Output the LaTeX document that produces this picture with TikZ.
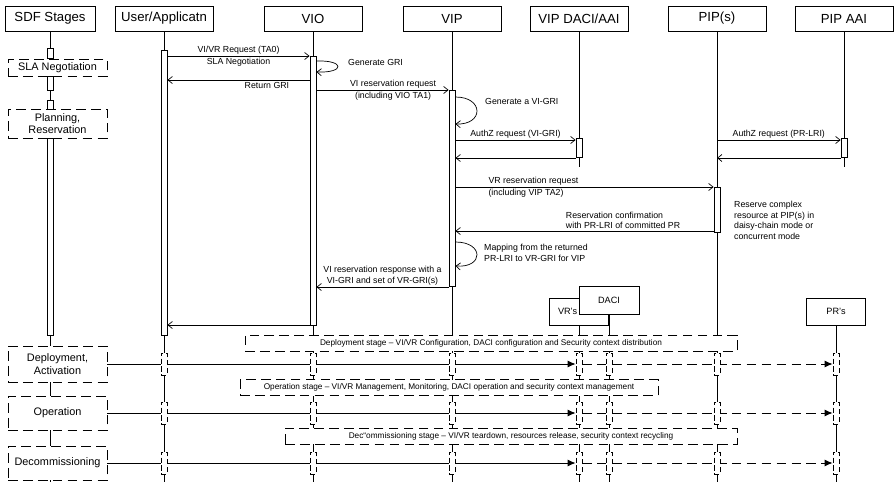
\documentclass[tikz,border=0pt]{standalone}
\usepackage{fontspec}
\setmainfont{Liberation Sans}
\usetikzlibrary{arrows.meta,backgrounds}

\tikzset{
  lifehead/.style={draw, fill=white, minimum width=1.96cm, minimum height=0.5cm, inner sep=1pt, font=\fontsize{7.5}{9}\selectfont},
  actbar/.style={draw, fill=white, minimum width=0.12cm, inner sep=0pt},
  dashbar/.style={actbar, dash pattern=on 3pt off 1.5pt, minimum height=0.44cm},
  sdfbox/.style={draw, fill=white, dash pattern=on 5.5pt off 3pt, minimum width=1.98cm, inner sep=1pt, align=center, font=\fontsize{6.2}{7.2}\selectfont},
  stageframe/.style={draw, fill=white, dash pattern=on 5.5pt off 3pt, minimum height=0.32cm, inner sep=1pt, font=\fontsize{4.7}{5.5}\selectfont},
  obj/.style={draw, fill=white, minimum width=1.18cm, minimum height=0.54cm, inner sep=1pt, font=\fontsize{5.2}{6}\selectfont},
  msg/.style={-{Straight Barb[length=2.5pt,width=4pt]}, line width=0.4pt},
  txt/.style={font=\fontsize{5}{6}\selectfont, inner sep=1pt, align=center},
  stageln/.style={-{Latex[length=4.5pt,width=4pt]}, line width=0.5pt}
}

\begin{document}
\begin{tikzpicture}[x=0.02cm, y=-0.02cm, line width=0.5pt]
  \useasboundingbox (0,0) rectangle (895,484);

  % Lifeline heads
  \node[lifehead, minimum width=1.8cm] (sdf) at (50,18.5) {SDF Stages};
  \node[lifehead] (usr) at (164,18.5) {User/Applicatn};
  \node[lifehead] (vio) at (313,18.5) {VIO};
  \node[lifehead] (vip) at (452,18.5) {VIP};
  \node[lifehead] (vdaci) at (579,18.5) {VIP DACI/AAI};
  \node[lifehead] (pip) at (717,18.5) {PIP(s)};
  \node[lifehead] (paai) at (844,18.5) {PIP AAI};

  % Activation bars
  \node[actbar, minimum height=0.2cm] (sA1) at (50,53) {};
  \node[actbar, minimum height=0.28cm] (sA2) at (50,83) {};
  \node[actbar, minimum height=0.18cm] (sA3) at (50,104.5) {};
  \node[actbar, minimum height=3.94cm] (sA4) at (50,236.5) {};
  \node[actbar, minimum height=5.7cm] (usrA) at (164,192.5) {};
  \node[actbar, minimum height=5.38cm] (vioA) at (313,190.5) {};
  \node[actbar, minimum height=3.92cm] (vipA) at (452,188) {};
  \node[actbar, minimum height=0.38cm] (vdaciA) at (579,147.5) {};
  \node[actbar, minimum height=0.38cm] (paaiA) at (844,147.5) {};
  \node[actbar, minimum height=0.9cm] (pipA) at (717,209.5) {};

  % SDF stages
  \node[sdfbox, minimum height=0.34cm] (sla) at (57.5,67.5) {SLA Negotiation};
  \node[sdfbox, minimum height=0.58cm] (plan) at (57.5,123.5) {Planning,\\Reservation};
  \node[sdfbox, minimum height=0.72cm] (depl) at (57.5,364) {Deployment,\\Activation};
  \node[sdfbox, minimum height=0.68cm] (oper) at (57.5,413) {Operation};
  \node[sdfbox, minimum height=0.68cm] (decom) at (57.5,463) {Decommissioning};

  % Resources
  \node[obj] (vrs) at (579,311.5) {VR's\kern 13pt};
  \node[obj, minimum width=1.2cm, minimum height=0.56cm] (daci) at (609,300) {DACI};
  \node[obj] (prs) at (836,311.5) {PR's};

  % Stage frames
  \node[stageframe, minimum width=9.84cm] (fD) at (491,343) {Deployment stage – VI/VR Configuration, DACI configuration and Security context distribution};
  \node[stageframe, minimum width=8.36cm] (fO) at (449,387.5) {Operation stage – VI/VR Management, Monitoring, DACI operation and security context management};
  \node[stageframe, minimum width=9.04cm] (fC) at (511,436) {Dec\char`\`\char`\`ommissioning stage – VI/VR teardown, resources release, security context recycling};

  % Dashed bars on the lifelines
  \foreach \r/\y in {1/364,2/413,3/463}
    \foreach \n/\x in {u/164,o/313,p/452,r/579,c/609,s/717,q/836}
      \node[dashbar] (d\r\n) at (\x,\y) {};

  \begin{scope}[on background layer]
    \foreach \n in {sdf,usr,vio,vip,pip}
      \draw (\n.south) -- (\n |- 0,482);
    \foreach \n in {vdaci,paai}
      \draw (\n.south) -- (\n |- 0,167);
    \foreach \n in {vrs,daci,prs}
      \draw (\n.south) -- (\n |- 0,482);
    \foreach \r/\s in {1/depl,2/oper,3/decom} {
      \draw[stageln] (\s.east) -- (d\r r.west);
      \draw[stageln, dash pattern=on 5.5pt off 3pt] (d\r r.east) -- (d\r q.west);
    }
  \end{scope}

  % Messages
  \draw[msg] (usrA.east |- 0,56) -- (vioA.west |- 0,56)
    node[txt, midway, above] (m1) {VI/VR Request (TA0)}
    node[txt, midway, below] (m1b) {SLA Negotiation};
  \draw[msg] (vioA.east |- 0,61) .. controls (345,60) and (345,73) .. (vioA.east |- 0,72);
  \node[txt, anchor=west] (m2) at (346,62) {Generate GRI};
  \draw[msg] (vioA.west |- 0,80) -- (usrA.east |- 0,80)
    node[txt, pos=0.3, below] (m3) {Return GRI};
  \draw[msg] (vioA.east |- 0,90) -- (vipA.west |- 0,90)
    node[txt, pos=0.58, above] (m4) {VI reservation request}
    node[txt, pos=0.58, below] (m4b) {(including VIO TA1)};
  \draw[msg] (vipA.east |- 0,97) .. controls (484,97) and (484,125) .. (vipA.east |- 0,124);
  \node[txt, anchor=west] (m5) at (483,101) {Generate a VI-GRI};
  \draw[msg] (vipA.east |- 0,140) -- (vdaciA.west |- 0,140)
    node[txt, midway, above] (m6) {AuthZ request (VI-GRI)};
  \draw[msg] (vdaciA.west |- 0,158) -- (vipA.east |- 0,158);
  \draw[msg] (pip |- 0,140) -- (paaiA.west |- 0,140)
    node[txt, midway, above] (m8) {AuthZ request (PR-LRI)};
  \draw[msg] (paaiA.west |- 0,158) -- (pip |- 0,158);
  \draw[msg] (vipA.east |- 0,187) -- (pipA.west |- 0,187)
    node[txt, pos=0.12, anchor=south west] (m10) {VR reservation request}
    node[txt, pos=0.12, anchor=north west] (m10b) {(including VIP TA2)};
  \draw[msg] (pipA.west |- 0,231) -- (vipA.east |- 0,231)
    node[txt, pos=0.58, anchor=south west, align=left] (m11) {Reservation confirmation\\with PR-LRI of committed PR};
  \node[txt, anchor=north west, align=left] (rsv) at (732,199) {Reserve complex\\resource at PIP(s) in\\daisy-chain mode or\\concurrent mode};
  \draw[msg] (vipA.east |- 0,242) .. controls (484,242) and (484,268) .. (vipA.east |- 0,266);
  \node[txt, anchor=west, align=left] (m13) at (482,253) {Mapping from the returned\\PR-LRI to VR-GRI for VIP};
  \draw[msg] (vipA.west |- 0,287) -- (vioA.east |- 0,287)
    node[txt, midway, above] (m14) {VI reservation response with a\\VI-GRI and set of VR-GRI(s)};
  \draw[msg] (vioA.west |- 0,325) -- (usrA.east |- 0,325);
\end{tikzpicture}
\end{document}
